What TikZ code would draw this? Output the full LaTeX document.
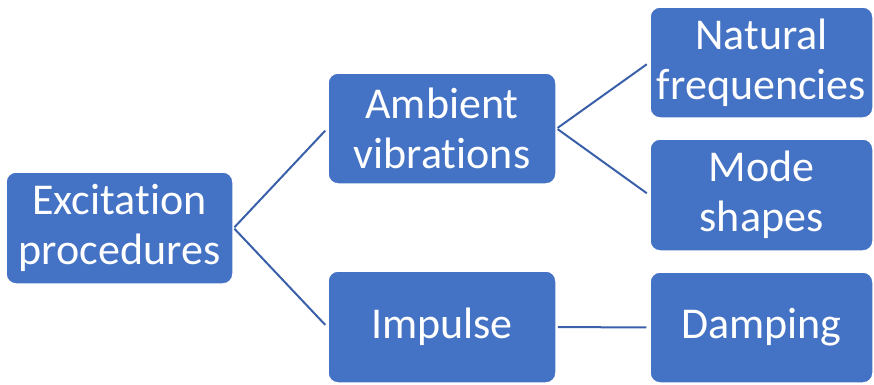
\documentclass[tikz,border=0pt]{standalone}
\usepackage{fontspec}
\setmainfont[Ligatures=NoCommon]{Carlito}
\definecolor{boxblue}{RGB}{68,114,196}
\definecolor{lineblue}{RGB}{58,96,170}
\begin{document}
\begin{tikzpicture}[x=1pt,y=-1pt,
  box/.style={rectangle, rounded corners=10pt, fill=boxblue, draw=white, line width=1.5pt,
    text=white, align=center, inner sep=0pt,
    font=\fontsize{44}{50}\selectfont},
  link/.style={draw=lineblue, line width=2pt, shorten <=1pt, shorten >=3pt}]
\useasboundingbox (0,0) rectangle (874,384);
\node[box, minimum width=227pt, minimum height=112pt] (exc) at (119.5,228) {Excitation\\procedures};
\node[box, minimum width=228pt, minimum height=111pt] (amb) at (442,128.5) {Ambient\\vibrations};
\node[box, minimum width=228pt, minimum height=112pt] (imp) at (442,327) {Impulse};
\node[box, minimum width=223pt, minimum height=111pt] (nat) at (761.5,62.5) {Natural\\frequencies};
\node[box, minimum width=223pt, minimum height=112pt] (mod) at (761.5,195) {Mode\\shapes};
\node[box, minimum width=223pt, minimum height=111pt] (dam) at (761.5,327.5) {Damping};
\draw[link] (exc.east) -- (amb.west);
\draw[link] (exc.east) -- (imp.west);
\draw[link] (amb.east) -- (nat.west);
\draw[link] (amb.east) -- (mod.west);
\draw[link] (imp.east) -- (dam.west);
\end{tikzpicture}
\end{document}
